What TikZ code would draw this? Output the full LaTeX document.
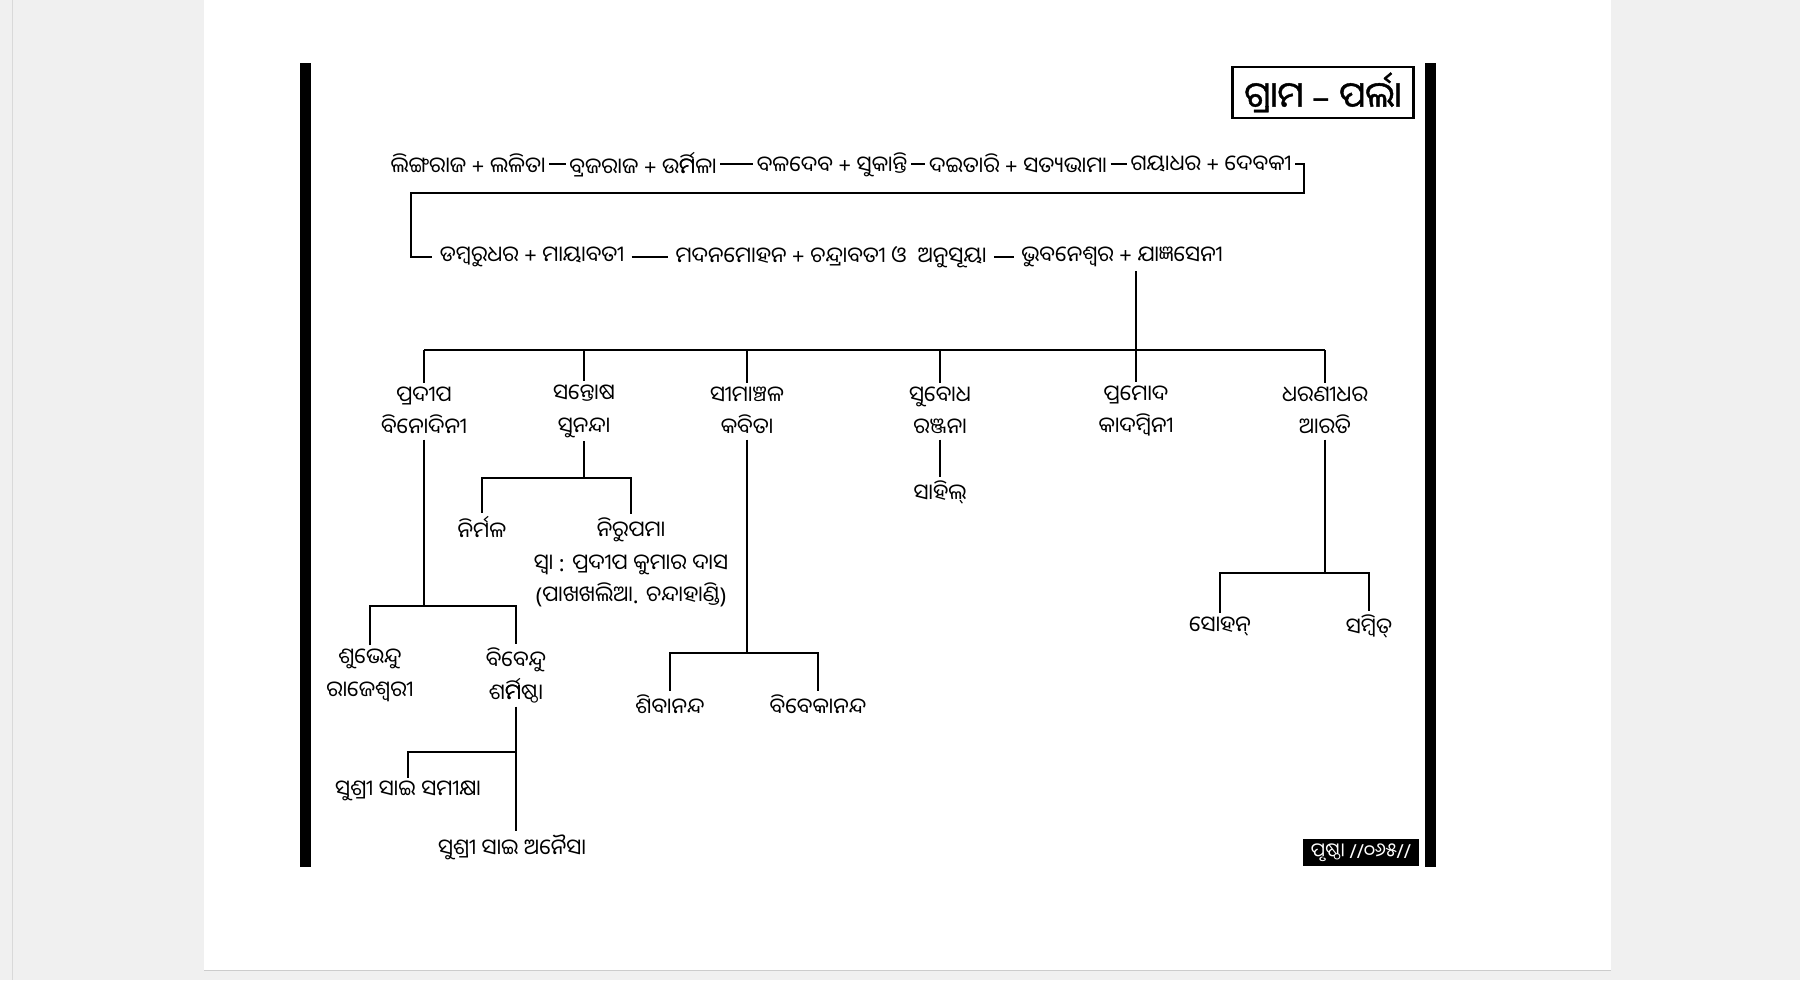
\documentclass[tikz,border=0pt]{standalone}
\usepackage{fontspec}
\newfontfamily\odia[Script=Oriya]{Noto Sans Oriya UI}
\newfontfamily\odiaT[Script=Oriya,FakeBold=1.2]{Noto Sans Oriya UI}
\newfontfamily\lat{Noto Sans}
\newcommand\rephmi{\rlap{ର୍ମ}ମି}
\usetikzlibrary{positioning}
\definecolor{pagegrey}{HTML}{F0F0F0}

\begin{document}
\begin{tikzpicture}[x=0.02cm,y=-0.02cm]
        \tikzstyle{every node}=[font=\odia\fontsize{12.4}{18.4}\selectfont]
        \tikzset{person/.style = {align=center,inner sep=2pt}}
        \tikzset{couple/.style = {person,inner xsep=4pt}}
        \tikzset{edge/.style = {line width=1.1pt}}
        \tikzset{bar/.style = {fill=black}}
        % page
        \fill[pagegrey] (0,0) rectangle (1800,980);
        \draw[black!15] (12,0) -- (12,980);
        \fill[white] (204,0) rectangle (1611,970);
        \draw[black!20] (204,970) -- (1611,970);
        \useasboundingbox (0,0) rectangle (1800,980);
        \fill[bar] (300,63) rectangle (311,867);
        \fill[bar] (1425,63) rectangle (1436,867);
        \node[draw,line width=1.2pt,minimum width=3.62cm,minimum height=0.88cm,
          font=\odiaT\fontsize{20}{24}\selectfont] (title) at (1323,92) {ଗ୍ରାମ {\lat –} ପର୍ଲା};
        \node[fill=black,text=white,minimum width=2.32cm,minimum height=0.54cm,inner sep=1pt,
          font=\odia\fontsize{11}{13}\selectfont] (page) at (1361,852) {ପୃଷ୍ଠା {\lat //}୦୬୫{\lat //}};
        % vertices
        \node[person] (n1) at (468,164) {ଲିଙ୍ଗରାଜ {\lat +} ଲଳିତା};
        \node[person] (n2) at (643,164) {ବ୍ରଜରାଜ {\lat +} ଉ\rephmi{}ଳା};
        \node[person] (n3) at (832,164) {ବଳଦେବ {\lat +} ସୁକାନ୍ତି};
        \node[person] (n4) at (1018,164) {ଦଇତାରି {\lat +} ସତ୍ୟଭାମା};
        \node[person] (n5) at (1211,164) {ଗୟାଧର {\lat +} ଦେବକୀ};
        \node[couple] (m1) at (532,257) {ଡମ୍ବରୁଧର {\lat +} ମାୟାବତୀ};
        \node[couple] (m2) at (831,257) {ମଦନମୋହନ {\lat +} ଚନ୍ଦ୍ରାବତୀ ଓ \ ଅନୁସୂୟା};
        \node[couple] (m3) at (1122,257) {ଭୁବନେଶ୍ୱର {\lat +} ଯାଜ୍ଞସେନୀ};
        \node[person] (c1) at (424,411) {ପ୍ରଦୀପ\\ବିନୋଦିନୀ};
        \node[person] (c2) at (584,411) {ସନ୍ତୋଷ\\ସୁନନ୍ଦା};
        \node[person] (c3) at (747,411) {ସୀମାଞ୍ଚଳ\\କବିତା};
        \node[person] (c4) at (940,411) {ସୁବୋଧ\\ରଞ୍ଜନା};
        \node[person] (c5) at (1136,411) {ପ୍ରମୋଦ\\କାଦମ୍ବିନୀ};
        \node[person] (c6) at (1325,411) {ଧରଣୀଧର\\ଆରତି};
        \node[person] (nirmal) at (482,528) {ନିର୍ମଳ};
        \node[person] (nirupama) at (631,562) {ନିରୁପମା\\ସ୍ୱା {\lat :} ପ୍ରଦୀପ କୁମାର ଦାସ\\{\lat (}ପାଖଖଲିଆ{\lat .} ଚନ୍ଦାହାଣ୍ଡି{\lat )}};
        \node[person] (sahil) at (940,492) {ସାହିଲ୍};
        \node[person] (shiva) at (670,705) {ଶିବାନନ୍ଦ};
        \node[person] (viveka) at (818,705) {ବିବେକାନନ୍ଦ};
        \node[person] (sohan) at (1220,626) {ସୋହନ୍};
        \node[person] (sambit) at (1369,626) {ସମ୍ବିତ୍};
        \node[person] (g1) at (370,675) {ଶୁଭେନ୍ଦୁ\\ରାଜେଶ୍ୱରୀ};
        \node[person] (g2) at (516,675) {ବିବେନ୍ଦୁ\\ଶ\rephmi{}ଷ୍ଠା};
        \node[person] (ss1) at (408,791) {ସୁଶ୍ରୀ ସାଇ ସମୀକ୍ଷା};
        \node[person] (ss2) at (512,847) {ସୁଶ୍ରୀ ସାଇ ଅନୈସା};
        \coordinate (bend) at (1304,193);
        \coordinate (bend2) at (411,193);
        \coordinate (bus) at (0,350);
        \coordinate (sbus) at (0,478);
        \coordinate (kbus) at (0,653);
        \coordinate (dbus) at (0,573);
        \coordinate (pbus) at (0,606);
        \coordinate (gbus) at (0,752);
        % edges
        \draw[edge] (n1) -- (n2);
        \draw[edge] (n2) -- (n3);
        \draw[edge] (n3) -- (n4);
        \draw[edge] (n4) -- (n5);
        \draw[edge] (n5) -| (bend) -- (bend2) |- (m1);
        \draw[edge] (m1) -- (m2);
        \draw[edge] (m2) -- (m3);
        \draw[edge] (m3.south -| c5) -- (c5.north);
        \draw[edge] (c1 |- bus) -- (c6 |- bus);
        \foreach \c in {c1,c2,c3,c4,c6}
          \draw[edge] (\c |- bus) -- (\c.north);
        \draw[edge] (c2.south) -- (c2 |- sbus);
        \draw[edge] (nirmal.north) |- (nirupama |- sbus) -- (nirupama.north);
        \draw[edge] (c4.south) -- (sahil.north);
        \draw[edge] (c3.south) -- (c3 |- kbus);
        \draw[edge] (shiva.north) |- (viveka |- kbus) -- (viveka.north);
        \draw[edge] (c6.south) -- (c6 |- dbus);
        \draw[edge] (sohan.north) |- (sambit |- dbus) -- (sambit.north);
        \draw[edge] (c1.south) -- (c1 |- pbus);
        \draw[edge] (g1.north) |- (g2 |- pbus) -- (g2.north);
        \draw[edge] (g2.south) -- (g2.south |- ss2.north);
        \draw[edge] (g2 |- gbus) -| (ss1.north);
\end{tikzpicture}
\end{document}
